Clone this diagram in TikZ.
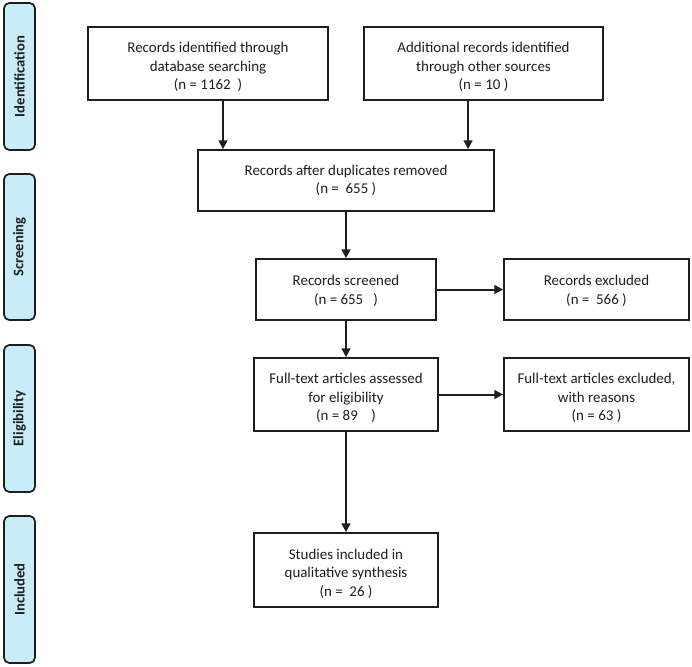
\documentclass[tikz,border=0pt]{standalone}
\usepackage{fontspec}
\setmainfont{Carlito}
\usetikzlibrary{arrows.meta}
\definecolor{barfill}{HTML}{C9ECFB}
\definecolor{ink}{HTML}{1E1E1E}
\newcommand\tstrut{\rule{0pt}{13.2pt}}
\begin{document}
\begin{tikzpicture}[x=0.75pt,y=-0.75pt,
  box/.style={draw=ink,line width=1.3pt,fill=white,inner sep=0pt,align=center,font=\fontsize{11.2}{13.8}\selectfont,text=ink},
  bar/.style={draw=ink,line width=1.3pt,fill=barfill,rounded corners=4pt,minimum width=31*0.75pt,minimum height=147*0.75pt,inner sep=0pt},
  barlabel/.style={rotate=90,font=\fontsize{11}{13}\bfseries\selectfont,text=ink},
  arr/.style={draw=ink,line width=1.5pt,-{Triangle[length=6.5pt,width=6.5pt]}}]
\useasboundingbox (0,0) rectangle (692,667);
% side bars
\node[bar] (bid) at (19.5,76.5) {};
\node[barlabel] (lid) at (bid.center) {Identification};
\node[bar,minimum height=146*0.75pt] (bsc) at (19.5,247) {};
\node[barlabel] (lsc) at (bsc.center) {Screening};
\node[bar] (bel) at (19.5,418.5) {};
\node[barlabel] (lel) at (bel.center) {Eligibility};
\node[bar] (bin) at (19.5,589.5) {};
\node[barlabel] (lin) at (bin.center) {Included};
% boxes
\node[box,minimum width=240*0.75pt,minimum height=73*0.75pt] (b1) at (208,63.5) {\tstrut Records identified through\\database searching\\(n = 1162\ \ )};
\node[box,minimum width=239*0.75pt,minimum height=73*0.75pt] (b2) at (483.5,63.5) {\tstrut Additional records identified\\through other sources\\(n = 10 )};
\node[box,minimum width=296*0.75pt,minimum height=61*0.75pt] (b3) at (346,180.5) {Records after duplicates removed\\(n =\ \ 655 )};
\node[box,minimum width=180*0.75pt,minimum height=61*0.75pt] (b4) at (346,289.5) {\rule{0pt}{9.5pt}Records screened\\(n = 655\ \ \ )};
\node[box,minimum width=185*0.75pt,minimum height=61*0.75pt] (b5) at (596.5,289.5) {\rule{0pt}{9.5pt}Records excluded\\(n =\ \ 566 )};
\node[box,minimum width=184*0.75pt,minimum height=73*0.75pt] (b6) at (346,394.5) {\tstrut Full-text articles assessed\\for eligibility\\(n = 89\ \ \ \ )};
\node[box,minimum width=185*0.75pt,minimum height=73*0.75pt] (b7) at (596.5,394.5) {\tstrut Full-text articles excluded,\\with reasons\\(n = 63 )};
\node[box,minimum width=184*0.75pt,minimum height=74*0.75pt] (b8) at (346,570) {\tstrut Studies included in\\qualitative synthesis\\(n =\ \ 26 )};
% connectors
\coordinate (a1) at ([xshift=11.25pt]b1.south);
\coordinate (a2) at ([xshift=-11.6pt]b2.south);
\draw[arr] (a1) -- (a1 |- b3.north);
\draw[arr] (a2) -- (a2 |- b3.north);
\draw[arr] (b3.south) -- (b4.north);
\draw[arr] (b4.south) -- (b6.north);
\draw[arr] (b6.south) -- (b8.north);
\draw[arr] (b4.east) -- (b5.west);
\draw[arr] (b6.east) -- (b7.west);
\end{tikzpicture}
\end{document}
